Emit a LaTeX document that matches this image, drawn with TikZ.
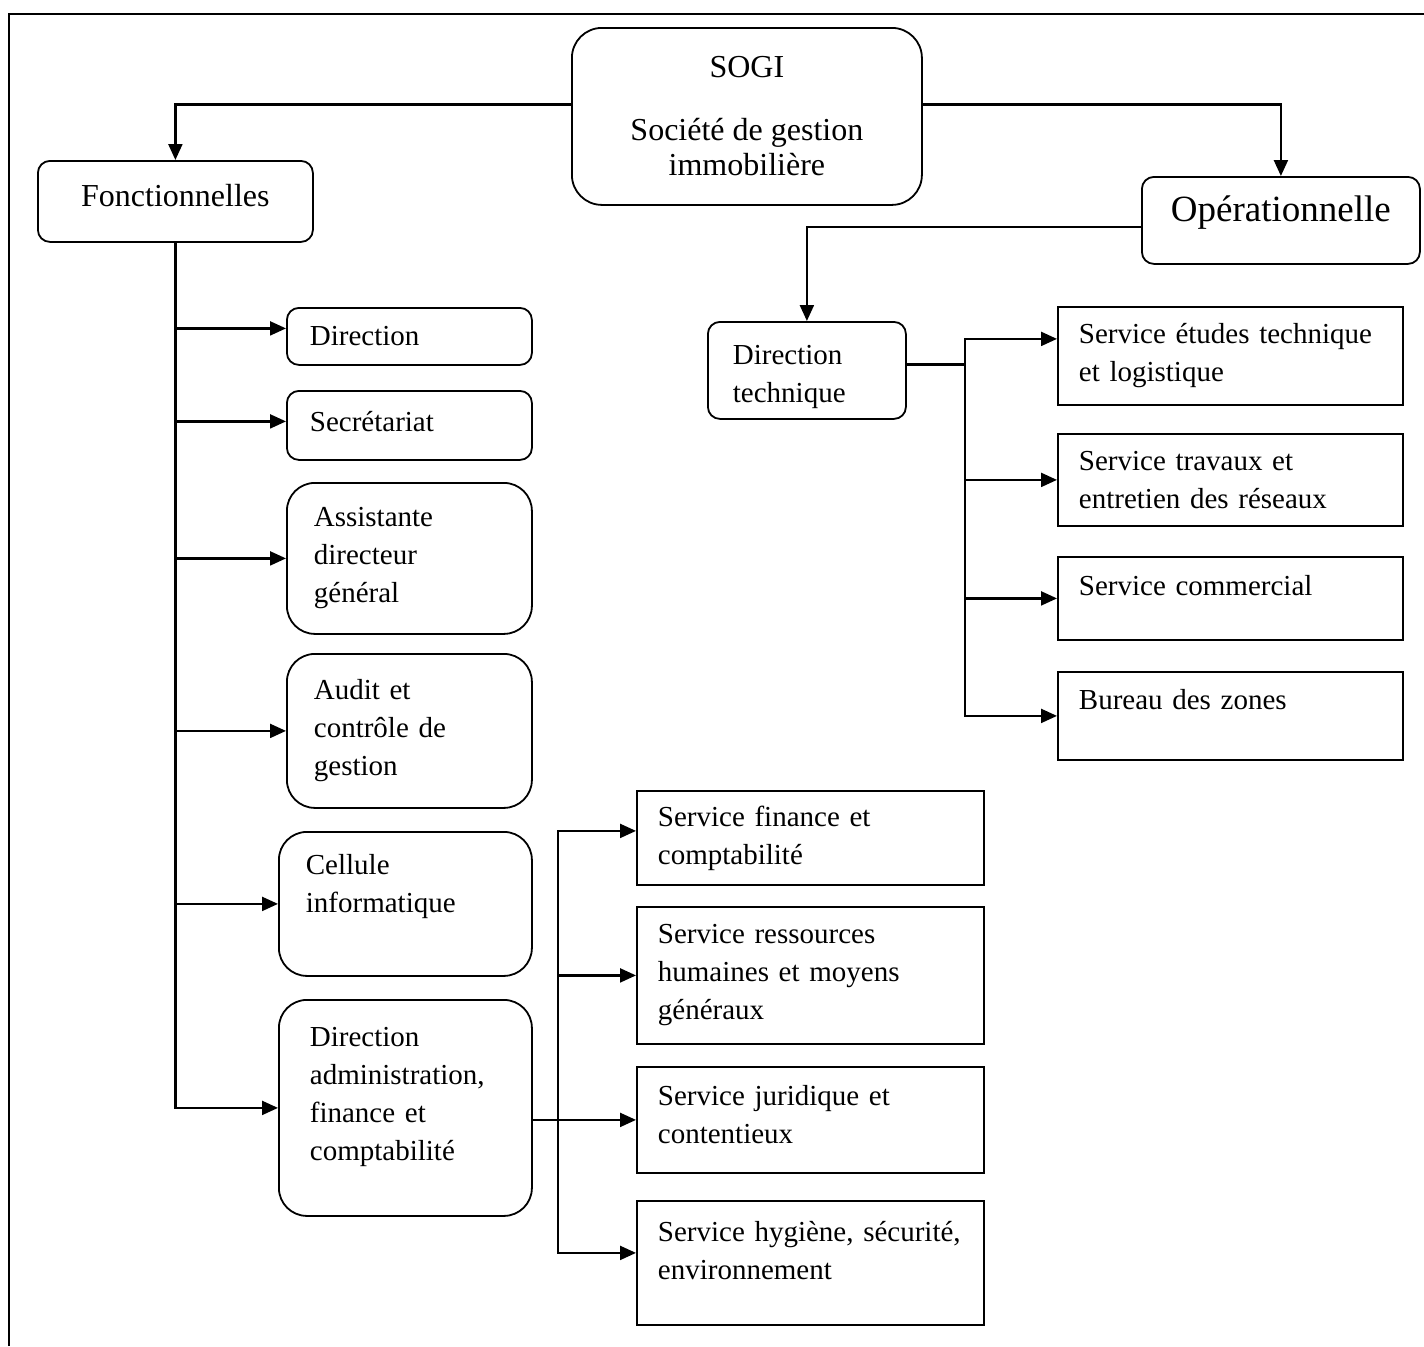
\documentclass[tikz,border=0pt]{standalone}
\usepackage{fontspec}
\setmainfont{Liberation Serif}
\usetikzlibrary{arrows.meta}

\tikzset{
  unit/.style={draw,line width=0.9pt,anchor=north west,align=left,inner ysep=2pt,
    font=\fontsize{14.5}{19}\selectfont},
  rbox/.style={unit,rounded corners=6pt},
  rbig/.style={unit,rounded corners=14pt},
  sbox/.style={unit,inner xsep=10.5pt},
  link/.style={line width=1.1pt,-{Triangle[length=8pt,width=7pt]}}
}

\begin{document}
\begin{tikzpicture}[x=0.5pt,y=-0.5pt]
\useasboundingbox (0,0) rectangle (1424,1346);
\draw[line width=1pt] (9,1346) -- (9,14) -- (1424,14);

% Head
\node[unit,rounded corners=15pt,align=center,minimum width=175pt,minimum height=88.5pt,
  font=\fontsize{16}{17.5}\selectfont] (sogi) at (571,27) {SOGI\\[14pt]Société de gestion\\immobilière};
\node[rbox,align=center,minimum width=137.5pt,minimum height=40.5pt,text depth=6.5pt,
  font=\fontsize{16}{19}\selectfont] (fonc) at (37,160) {Fonctionnelles};
\node[rbox,align=center,minimum width=139pt,minimum height=43.5pt,text depth=11.5pt,
  font=\fontsize{18.5}{21}\selectfont] (oper) at (1141,176) {Opérationnelle};

% Fonctionnelles
\node[rbox,inner xsep=11.5pt,text width=99.5pt,minimum height=28.5pt] (dir) at (286,307) {Direction};
\node[rbox,inner xsep=11.5pt,text width=99.5pt,minimum height=34.5pt,text depth=4pt] (sec) at (286,390) {Secrétariat};
\node[rbig,inner xsep=13.5pt,text width=95.5pt,minimum height=75.5pt] (ass) at (286,482) {Assistante\\directeur\\général};
\node[rbig,inner xsep=13.5pt,text width=95.5pt,minimum height=77pt] (aud) at (286,653) {Audit et\\contrôle de\\gestion};
\node[rbig,inner xsep=13.5pt,text width=99.5pt,minimum height=72pt,text depth=39.6pt] (cel) at (278,831) {Cellule\\informatique};
\node[rbig,inner xsep=15.5pt,text width=95.5pt,minimum height=108pt,text depth=71pt] (dafc) at (278,999) {Direction\\administration,\\finance et\\comptabilité};

% Services DAFC
\node[sbox,text width=152.5pt,minimum height=47pt] (sfin) at (636,790) {Service finance et\\comptabilité};
\node[sbox,text width=152.5pt,minimum height=68.5pt] (srh) at (636,906) {Service ressources\\humaines et moyens\\généraux};
\node[sbox,text width=152.5pt,minimum height=53pt,text depth=24pt] (sjur) at (636,1066) {Service juridique et\\contentieux};
\node[sbox,text width=152.5pt,minimum height=62pt,text depth=32pt] (shyg) at (636,1200) {Service hygiène, sécurité,\\environnement};

% Operationnelle
\node[rbox,inner xsep=12.5pt,text width=74pt,minimum height=48.5pt,text depth=16pt] (dt) at (707,321) {Direction\\technique};
\node[sbox,text width=151.5pt,minimum height=49pt] (ste) at (1057,306) {Service études technique\\et logistique};
\node[sbox,text width=151.5pt,minimum height=46pt] (stra) at (1057,433) {Service travaux et\\entretien des réseaux};
\node[sbox,text width=151.5pt,minimum height=41.5pt,text depth=12.5pt] (scom) at (1057,556) {Service commercial};
\node[sbox,text width=151.5pt,minimum height=44pt,text depth=16pt] (bur) at (1057,671) {Bureau des zones};

% Links
\draw[link] ([yshift=6pt]sogi.west) -| (fonc.north);
\draw[link] ([yshift=6pt]sogi.east) -| (oper.north);
\draw[link] ([yshift=-3.25pt]oper.west) -| (dt.north);

\draw[link] (fonc.south) |- ([yshift=4pt]dir.west);
\draw[link] (fonc.south) |- ([yshift=2pt]sec.west);
\draw[link] (fonc.south) |- (ass.west);
\draw[link] (fonc.south) |- (aud.west);
\draw[link] (fonc.south) |- (cel.west);
\draw[link] (fonc.south) |- (dafc.west);

\draw[link] (dafc.east |- sjur.west) -- ++(12.5pt,0) |- ([yshift=3.5pt]sfin.west);
\draw[link] (dafc.east |- sjur.west) -- ++(12.5pt,0) |- (srh.west);
\draw[link] (dafc.east |- sjur.west) -- (sjur.west);
\draw[link] (dafc.east |- sjur.west) -- ++(12.5pt,0) |- ([yshift=5pt]shyg.west);

\draw[link] ([yshift=3pt]dt.east) -- ++(29pt,0) |- ([yshift=8.5pt]ste.west);
\draw[link] ([yshift=3pt]dt.east) -- ++(29pt,0) |- (stra.west);
\draw[link] ([yshift=3pt]dt.east) -- ++(29pt,0) |- (scom.west);
\draw[link] ([yshift=3pt]dt.east) -- ++(29pt,0) |- (bur.west);
\end{tikzpicture}
\end{document}
